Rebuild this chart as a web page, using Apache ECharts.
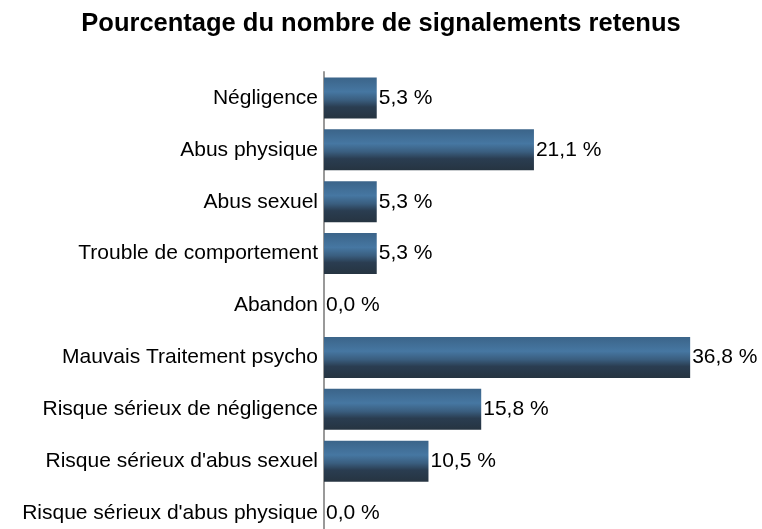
<!DOCTYPE html>
<html>
<head>
<meta charset="utf-8">
<script src="https://cdn.jsdelivr.net/npm/echarts@6/dist/echarts.min.js"></script>
<style>
  html, body { margin: 0; padding: 0; background: #fff; overflow: hidden; }
  #chart { width: 762px; height: 540px; }
</style>
</head>
<body>
<div id="chart"></div>
<script>
var categories = ['Négligence', 'Abus physique', 'Abus sexuel', 'Trouble de comportement', 'Abandon',
    'Mauvais Traitement psycho', 'Risque sérieux de négligence', "Risque sérieux d'abus sexuel",
    "Risque sérieux d'abus physique"];
var values = [5.3, 21.1, 5.3, 5.3, 0.0, 36.8, 15.8, 10.5, 0.0];

(function(){
    // chart is a bit taller than the window: last row gets cut like in the original
    var myChart = echarts.init(document.getElementById('chart'));

    var barColor = new echarts.graphic.LinearGradient(0, 0, 0, 1, [
        {offset: 0, color: '#3b6489'},
        {offset: 0.35, color: '#4677a2'},
        {offset: 0.55, color: '#3a5e7f'},
        {offset: 0.72, color: '#2a3d51'},
        {offset: 1, color: '#263441'}
    ]);

    var option = {
        animation: false,
        title: {
            text: 'Pourcentage du nombre de signalements retenus',
            left: 'center',
            top: 6,
            textStyle: {
                fontFamily: 'Liberation Sans',
                fontSize: 25.5,
                fontWeight: 'bold',
                color: '#000'
            }
        },
        grid: {
            left: 324,
            top: 72,
            width: 398,
            height: 467
        },
        xAxis: {
            type: 'value',
            min: 0,
            max: 40,
            show: false
        },
        yAxis: {
            type: 'category',
            inverse: true,
            data: categories,
            axisLine: {show: true, lineStyle: {color: '#999', width: 2}},
            axisTick: {show: false},
            axisLabel: {
                margin: 6,
                fontFamily: 'Liberation Sans',
                fontSize: 21,
                color: '#000'
            }
        },
        series: [{
            type: 'bar',
            data: values,
            barCategoryGap: '21%',
            itemStyle: {color: barColor},
            label: {
                show: true,
                position: 'right',
                distance: 2,
                fontFamily: 'Liberation Sans',
                fontSize: 21,
                color: '#000',
                formatter: function (p) {
                    return p.value.toFixed(1).replace('.', ',') + ' %';
                }
            }
        }]
    };

    myChart.setOption(option);
})();
</script>
</body>
</html>
